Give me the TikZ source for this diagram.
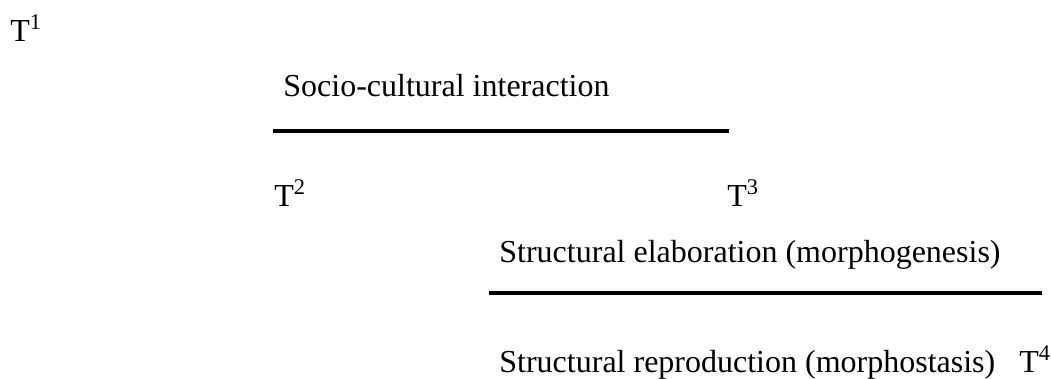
\documentclass[tikz,border=0pt]{standalone}
\usepackage{fontspec}
\setmainfont{Liberation Serif}
\usepackage{tikz}

\begin{document}
\begin{tikzpicture}[x=0.5pt, y=-0.5pt, every node/.style={inner sep=0pt, anchor=base west, font=\fontsize{16}{19}\selectfont}]
\useasboundingbox (0,0) rectangle (1051,379); % frame
\node (t1) at (10,42) {T\textsuperscript{1}}; % first time point
\node (sci) at (283,97) {Socio-cultural interaction}; % upper label
\coordinate (scileft) at (273,131);
\coordinate (sciright) at (729,131);
\draw[line width=1.8pt] (scileft) -- (sciright); % upper rule
\node (t2) at (274,207) {T\textsuperscript{2}}; % second time point
\node (t3) at (727,207) {T\textsuperscript{3}}; % third time point
\node (elab) at (499,263) {Structural elaboration (morphogenesis)}; % lower label
\coordinate (elableft) at (489,293);
\coordinate (elabright) at (1042,293);
\draw[line width=1.8pt] (elableft) -- (elabright); % lower rule
\node (repro) at (499,373) {Structural reproduction (morphostasis)}; % bottom label
\node (t4) at (1019,373) {T\textsuperscript{4}}; % fourth time point
\end{tikzpicture}
\end{document}
